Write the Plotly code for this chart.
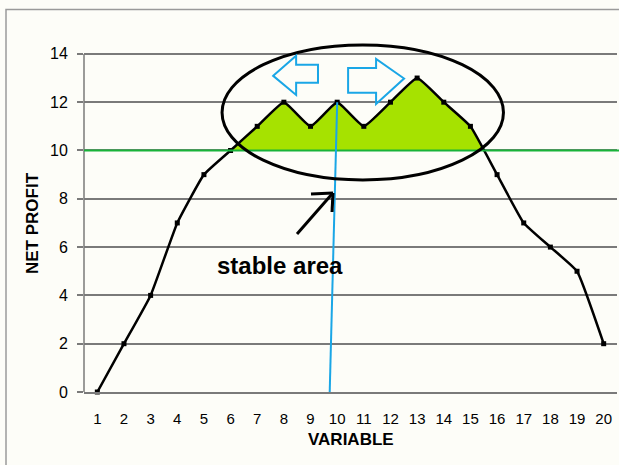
import plotly.graph_objects as go

# ---------------- data ----------------
variable = list(range(1, 21))
net_profit = [0, 2, 4, 7, 9, 10, 11, 12, 11, 12, 11, 12, 13, 12, 11, 9, 7, 6, 5, 2]
y_ticks = [0, 2, 4, 6, 8, 10, 12, 14]
x_ticks = variable
threshold = 10
x_title = "VARIABLE"
y_title = "NET PROFIT"
note = "stable area"

# ---------------- layout constants ----------------
W, H = 619, 465
L, R, T, B = 84, 2, 8, 73
PW, PH = W - L - R, H - T - B
BG = "#fdfdf8"
GRID = "#7a7a7a"
FONT = "Liberation Sans, Arial, sans-serif"


def paper(px, py):
    return (px - L) / PW, (H - B - py) / PH


# stable region above threshold, derived from the data
fx, fy = [], []
for i, (x, y) in enumerate(zip(variable, net_profit)):
    if i > 0:
        xp, yp = variable[i - 1], net_profit[i - 1]
        if (yp - threshold) * (y - threshold) < 0:
            t = (threshold - yp) / (y - yp)
            fx.append(xp + t * (x - xp))
            fy.append(threshold)
    if y >= threshold:
        fx.append(x)
        fy.append(y)

fig = go.Figure()
fig.add_trace(go.Scatter(
    x=fx, y=fy, mode="lines", fill="toself", fillcolor="#a6e200",
    line=dict(width=0, color="#a6e200"), hoverinfo="skip", showlegend=False,
))
fig.add_trace(go.Scatter(
    x=variable, y=net_profit, mode="lines+markers",
    line=dict(color="black", width=2.5, shape="spline", smoothing=0.35),
    marker=dict(symbol="square", size=5, color="black"),
    cliponaxis=False, showlegend=False,
))

shapes = []
# y axis line
shapes.append(dict(type="line", xref="paper", yref="y", x0=0, x1=0, y0=0, y1=14,
                   line=dict(color=GRID, width=1.5), layer="below"))
# green threshold line
shapes.append(dict(type="line", xref="paper", yref="y", x0=0, x1=1.01, y0=threshold, y1=threshold,
                   line=dict(color="#19b33a", width=2.2)))
# blue vertical line
shapes.append(dict(type="line", xref="x", yref="y", x0=9.72, x1=10.0, y0=0, y1=12,
                   line=dict(color="#1aa6e6", width=2)))
# ellipse
shapes.append(dict(type="circle", xref="x", yref="y", x0=5.68, x1=16.24, y0=8.78, y1=14.37,
                   line=dict(color="black", width=3)))
# left hollow arrow
la = [(7.60, 13.09), (8.46, 13.92), (8.46, 13.55), (9.28, 13.55),
      (9.28, 12.80), (8.46, 12.80), (8.46, 12.30)]
shapes.append(dict(type="path", xref="x", yref="y",
                   path="M " + " L ".join(f"{a},{b}" for a, b in la) + " Z",
                   line=dict(color="#1aa6e6", width=2)))
# right hollow arrow
ra = [(10.41, 13.42), (11.46, 13.42), (11.46, 13.79), (12.51, 12.98),
      (11.46, 11.93), (11.46, 12.39), (10.41, 12.39)]
shapes.append(dict(type="path", xref="x", yref="y",
                   path="M " + " L ".join(f"{a},{b}" for a, b in ra) + " Z",
                   line=dict(color="#1aa6e6", width=2)))
# pointer arrow (pixel based)
for (ax0, ay0), (ax1, ay1) in [((297, 234), (332, 194)), ((311, 194), (333, 193)), ((333, 193), (332, 212))]:
    p0, p1 = paper(ax0, ay0), paper(ax1, ay1)
    shapes.append(dict(type="line", xref="paper", yref="paper", x0=p0[0], y0=p0[1], x1=p1[0], y1=p1[1],
                       line=dict(color="black", width=3)))
# outer border
b0, b1 = paper(6, 9.5), paper(640, 480)
shapes.append(dict(type="rect", xref="paper", yref="paper", x0=b0[0], y0=b1[1], x1=b1[0], y1=b0[1],
                   line=dict(color="#9a9a9a", width=1.5), fillcolor="rgba(0,0,0,0)"))

annotations = []
p = paper(33, 223)
annotations.append(dict(text=f"<b>{y_title}</b>", x=p[0], y=p[1], xref="paper", yref="paper",
                        xanchor="center", yanchor="middle",
                        showarrow=False, textangle=-90, font=dict(family=FONT, size=17, color="black")))
p = paper(351, 439)
annotations.append(dict(text=f"<b>{x_title}</b>", x=p[0], y=p[1], xref="paper", yref="paper",
                        xanchor="center", yanchor="middle",
                        showarrow=False, font=dict(family=FONT, size=17, color="black")))
p = paper(280, 265)
annotations.append(dict(text=f"<b>{note}</b>", x=p[0], y=p[1], xref="paper", yref="paper",
                        xanchor="center", yanchor="middle",
                        showarrow=False, font=dict(family=FONT, size=24, color="black")))

fig.update_layout(
    width=W, height=H,
    margin=dict(l=L, r=R, t=T, b=B),
    paper_bgcolor=BG, plot_bgcolor=BG,
    shapes=shapes, annotations=annotations,
    showlegend=False,
    xaxis=dict(range=[0.5, 20.5], tickvals=x_ticks, ticktext=[str(v) for v in x_ticks],
               showgrid=False, zeroline=False, showline=True, linecolor=GRID, linewidth=1.5,
               ticks="outside", ticklen=0, ticklabelstandoff=12,
               tickfont=dict(family=FONT, size=15, color="black")),
    yaxis=dict(range=[0, 15.9], tickvals=y_ticks, showgrid=True, gridcolor=GRID, gridwidth=1.5,
               zeroline=False, showline=False, ticks="outside", ticklen=6, tickcolor=GRID, tickwidth=1.5,
               ticklabelstandoff=6,
               tickfont=dict(family=FONT, size=16, color="black")),
)

fig.write_html("out.html", config={"displayModeBar": False},
               post_script="document.body.style.margin='0';document.body.style.overflow='hidden';")
